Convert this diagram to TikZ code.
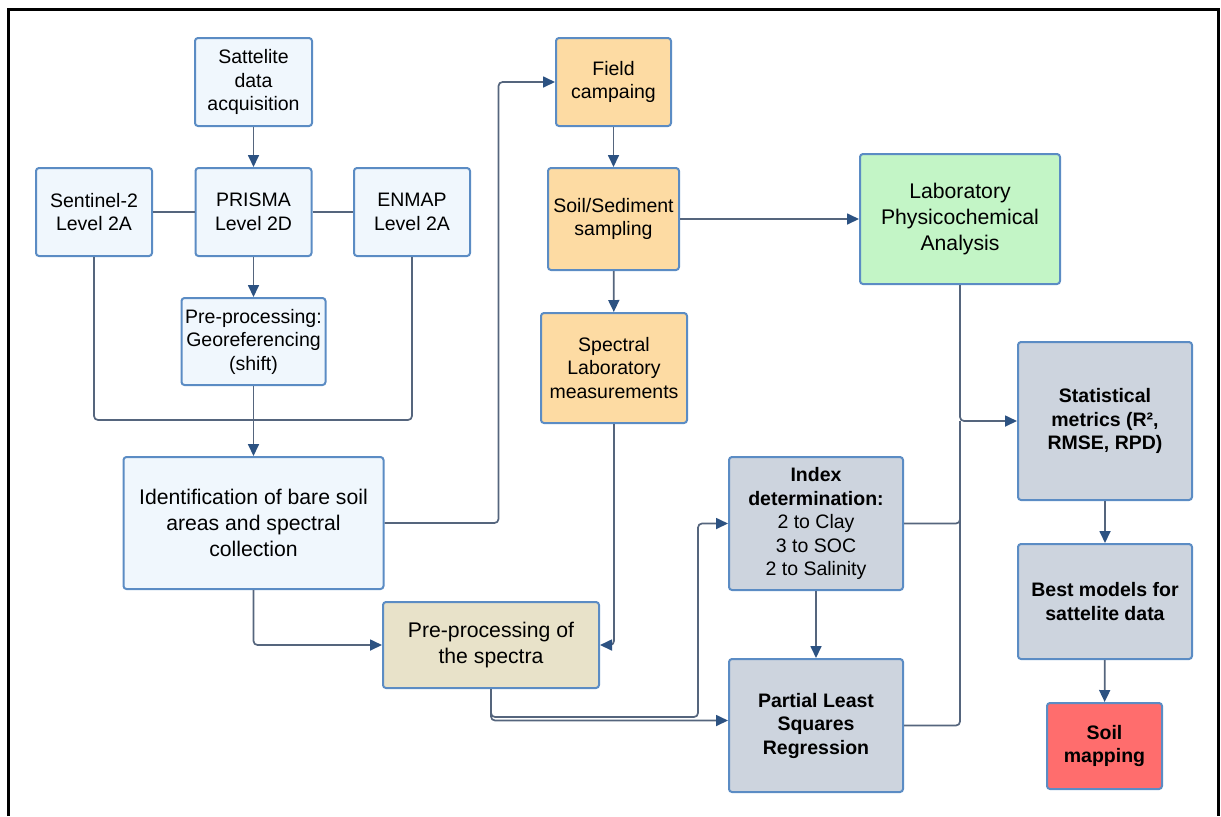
\documentclass[tikz,border=0pt]{standalone}
\usepackage{fontspec}
\setmainfont{Liberation Sans}
\usetikzlibrary{arrows.meta}
\definecolor{bordblue}{HTML}{5B8CC4}
\definecolor{lineslate}{HTML}{55657D}
\definecolor{tipblue}{HTML}{2C5282}
\definecolor{satfill}{HTML}{F0F7FD}
\definecolor{fieldfill}{HTML}{FDDBA3}
\definecolor{labfill}{HTML}{C3F5C6}
\definecolor{specfill}{HTML}{E8E2C9}
\definecolor{modfill}{HTML}{CDD4DE}
\definecolor{mapfill}{HTML}{FF6D6D}
\begin{document}
\begin{tikzpicture}[x=0.5pt,y=-0.5pt,
    box/.style={draw=bordblue,line width=1pt,rounded corners=1.5pt,align=center,inner sep=0pt,
        font=\fontsize{9.75}{11.75}\selectfont},
    bigtext/.style={font=\fontsize{10.6}{13}\selectfont},
    boldtext/.style={font=\fontsize{9.75}{11.75}\selectfont\bfseries},
    link/.style={draw=lineslate,line width=0.85pt,rounded corners=2pt},
    flow/.style={link,-{Triangle[length=6pt,width=5.5pt,color=tipblue]}}]
                \useasboundingbox (0,0) rectangle (1221,816);
                \draw[line width=1.5pt] (8,816) -- (8,9) -- (1218,9) -- (1218,816);
                \node[box,fill=satfill,minimum width=58.5pt,minimum height=44pt] (sat) at (253.5,82) {Sattelite\\data\\acquisition};
                \node[box,fill=satfill,minimum width=58pt,minimum height=44pt] (sent) at (94,212) {Sentinel-2\\Level 2A};
                \node[box,fill=satfill,minimum width=58pt,minimum height=44pt] (prisma) at (253.5,212) {PRISMA\\Level 2D};
                \node[box,fill=satfill,minimum width=58pt,minimum height=44pt] (enmap) at (412,212) {ENMAP\\Level 2A};
                \node[box,fill=satfill,minimum width=72pt,minimum height=43.5pt] (georef) at (253.5,341.5) {Pre-processing:\\Georeferencing\\(shift)};
                \node[box,bigtext,fill=satfill,minimum width=130pt,minimum height=66pt] (ident) at (253.5,523) {Identification of bare soil\\areas and spectral\\collection};
                \node[box,fill=fieldfill,minimum width=57.5pt,minimum height=44pt] (field) at (613.5,82) {Field\\campaing};
                \node[box,fill=fieldfill,minimum width=65.5pt,minimum height=51pt] (soil) at (613.5,219) {Soil/Sediment\\sampling};
                \node[box,fill=fieldfill,minimum width=73pt,minimum height=55pt] (spec) at (614,368) {Spectral\\Laboratory\\measurements};
                \node[box,bigtext,fill=labfill,minimum width=100pt,minimum height=65pt] (lab) at (960,219) {Laboratory\\Physicochemical\\Analysis};
                \node[box,bigtext,fill=specfill,minimum width=108pt,minimum height=43pt] (pspec) at (491,645) {Pre-processing of\\the spectra};
                \node[box,fill=modfill,minimum width=87pt,minimum height=66.5pt] (index) at (816,523.5) {\textbf{Index}\\\textbf{determination:}\\2 to Clay\\3 to SOC\\2 to Salinity};
                \node[box,boldtext,fill=modfill,minimum width=87pt,minimum height=66.5pt] (pls) at (816,725.5) {Partial Least\\Squares\\Regression};
                \node[box,boldtext,fill=modfill,minimum width=87pt,minimum height=79pt] (stat) at (1105,421) {Statistical\\metrics (R²,\\RMSE, RPD)};
                \node[box,boldtext,fill=modfill,minimum width=87pt,minimum height=57.5pt] (best) at (1105,601.5) {Best models for\\sattelite data};
                \node[box,boldtext,fill=mapfill,minimum width=57.5pt,minimum height=43pt] (map) at (1104.5,746) {Soil\\mapping};
                \coordinate (join) at (253.5,420);
                \coordinate (split) at (698,717);
                \coordinate (merge) at (960,421);
                \draw[flow] (sat) -- (prisma);
                \draw[link] (sent) -- (prisma);
                \draw[link] (prisma) -- (enmap);
                \draw[flow] (prisma) -- (georef);
                \draw[link] (sent.south) |- (join);
                \draw[link] (enmap.south) |- (join);
                \draw[flow] (georef) -- (ident);
                \draw[flow] (ident.east) -- ++(114,0) |- (field.west);
                \draw[flow] (field) -- (soil);
                \draw[flow] (soil) -- (spec);
                \draw[flow] (soil) -- (lab);
                \draw[flow] (spec.south) |- (pspec.east);
                \draw[flow] (ident.south) |- (pspec.west);
                \draw[flow] (pspec.south) |- (split) |- (index.west);
                \draw[flow] (pspec.south) |- ([yshift=2.5pt]pls.west);
                \draw[flow] (index) -- (pls);
                \draw[flow] (lab.south) |- (stat.west);
                \draw[link] (index.east) -| (merge);
                \draw[link] (pls.east) -| (merge);
                \draw[flow] (stat) -- (best);
                \draw[flow] (best) -- (map);
            \end{tikzpicture}
\end{document}
